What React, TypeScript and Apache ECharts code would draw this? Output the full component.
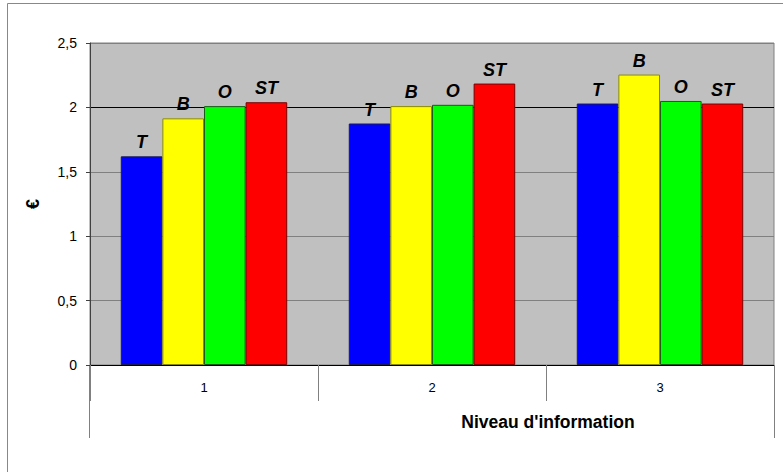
import React, { useEffect, useRef } from "react";
import * as echarts from "echarts";

const categories = ["1", "2", "3"];
const seriesNames = ["T", "B", "O", "ST"];
const valuesT = [1.62, 1.875, 2.03];
const valuesB = [1.915, 2.01, 2.255];
const valuesO = [2.01, 2.02, 2.05];
const valuesST = [2.04, 2.185, 2.03];
const yTicks = { min: 0, max: 2.5, interval: 0.5 };
const xTitle = "Niveau d'information";
const yTitle = "€";

const fills = ["#0000ff", "#ffff00", "#00ff00", "#ff0000"];
const borders = ["#1a1a50", "#8a8a00", "#1a5a1a", "#7a0000"];

export default function App() {
  const ref = useRef<HTMLDivElement>(null);
  useEffect(() => {
    if (!ref.current) return;
    const chart = echarts.init(ref.current, null, { renderer: "svg" });
    const font = "Liberation Sans, Arial, sans-serif";
    const data = [valuesT, valuesB, valuesO, valuesST];
    chart.setOption({
      animation: false,
      textStyle: { fontFamily: font },
      grid: {
        left: 90,
        right: 9,
        top: 43,
        bottom: 107,
        show: true,
        backgroundColor: "#c0c0c0",
        borderColor: "#808080",
        borderWidth: 1,
      },
      xAxis: {
        type: "category",
        data: categories,
        axisLine: { show: true, lineStyle: { color: "#000", width: 1 } },
        axisTick: { show: true, interval: 0, length: 36, alignWithLabel: false, lineStyle: { color: "#808080" } },
        axisLabel: { color: "#000", fontSize: 13, margin: 16, fontFamily: font },
        splitLine: { show: false },
      },
      yAxis: {
        type: "value",
        min: yTicks.min,
        max: yTicks.max,
        interval: yTicks.interval,
        name: yTitle,
        nameLocation: "middle",
        nameRotate: 90,
        nameGap: 48,
        nameTextStyle: { color: "#000", fontSize: 18, fontWeight: "bold", fontFamily: font },
        axisLine: { show: true, lineStyle: { color: "#404040", width: 1 } },
        axisTick: { show: true, length: 4, lineStyle: { color: "#404040" } },
        axisLabel: {
          color: "#000",
          fontSize: 14,
          margin: 13,
          fontFamily: font,
          formatter: (v: number) => String(v).replace(".", ","),
        },
        splitLine: {
          show: true,
          lineStyle: { color: ["#808080", "#808080", "#808080", "#808080", "#000000", "#808080"], width: 1 },
        },
      },
      graphic: [
        {
          type: "rect",
          shape: { x: 7.5, y: 3.5, width: 900, height: 600 },
          style: { fill: "none", stroke: "#888", lineWidth: 1 },
          silent: true,
        },
        {
          type: "line",
          shape: { x1: 89.5, y1: 365, x2: 89.5, y2: 438 },
          style: { stroke: "#808080", lineWidth: 1 },
        },
        {
          type: "line",
          shape: { x1: 774.5, y1: 365, x2: 774.5, y2: 438 },
          style: { stroke: "#808080", lineWidth: 1 },
        },
        {
          type: "text",
          x: 548,
          y: 422,
          style: {
            text: xTitle,
            fill: "#000",
            font: `bold 17.5px ${font}`,
            textAlign: "center",
            textVerticalAlign: "middle",
          },
        },
      ],
      series: seriesNames.map((name, i) => ({
        name,
        type: "bar",
        data: data[i],
        barGap: "0%",
        barCategoryGap: "27%",
        itemStyle: { color: fills[i], borderColor: borders[i], borderWidth: 1 },
        label: {
          show: true,
          position: "top",
          distance: 5,
          formatter: name,
          color: "#000",
          fontSize: 18,
          fontStyle: "italic",
          fontWeight: "bold",
          fontFamily: font,
        },
      })),
    });
    return () => chart.dispose();
  }, []);
  return <div ref={ref} style={{ position: "absolute", left: 0, top: 0, width: 783, height: 472 }} />;
}
